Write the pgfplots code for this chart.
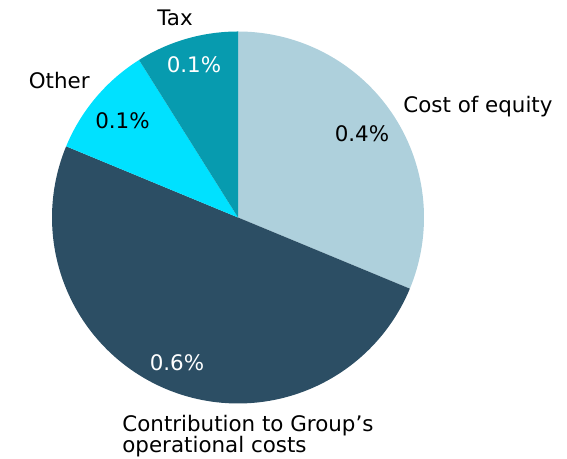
\documentclass[border=0pt]{standalone}
\usepackage{pgfplots}
\pgfplotsset{compat=1.18}
\usepackage{fontspec}
\setmainfont{DejaVu Sans}
\definecolor{ceq}{HTML}{AED0DC}
\definecolor{ccon}{HTML}{2C4E64}
\definecolor{coth}{HTML}{00E1FF}
\definecolor{ctax}{HTML}{079BAF}
% slice values (% points)
\def\vEq{0.35}
\def\vCon{0.56}
\def\vOth{0.11}
\def\vTax{0.10}
\pgfmathsetmacro\tot{\vEq+\vCon+\vOth+\vTax}
\pgfmathsetmacro\aA{90-360*\vEq/\tot}
\pgfmathsetmacro\aB{\aA-360*\vCon/\tot}
\pgfmathsetmacro\aC{\aB-360*\vOth/\tot}
\pgfmathsetmacro\aD{\aC-360*\vTax/\tot}
\def\cx{238}
\def\cy{241.5}
\def\R{186}
\begin{document}
\begin{tikzpicture}[every node/.style={font=\fontsize{10.7}{12.8}\selectfont, inner sep=0pt}]
\useasboundingbox (0,0) rectangle (283.5pt,229.5pt);
\begin{axis}[
  at={(0,0)}, anchor=origin,
  x=0.5pt, y=0.5pt,
  xmin=0, xmax=567, ymin=0, ymax=459,
  hide axis, clip=false,
]
\addplot[fill=ceq, draw=none, domain=\aA:90, samples=90, variable=\t]
  ({\cx+\R*cos(t)},{\cy+\R*sin(t)}) -- (axis cs:\cx,\cy) -- cycle;
\addplot[fill=ccon, draw=none, domain=\aB:\aA, samples=120, variable=\t]
  ({\cx+\R*cos(t)},{\cy+\R*sin(t)}) -- (axis cs:\cx,\cy) -- cycle;
\addplot[fill=coth, draw=none, domain=\aC:\aB, samples=40, variable=\t]
  ({\cx+\R*cos(t)},{\cy+\R*sin(t)}) -- (axis cs:\cx,\cy) -- cycle;
\addplot[fill=ctax, draw=none, domain=\aD:\aC, samples=40, variable=\t]
  ({\cx+\R*cos(t)},{\cy+\R*sin(t)}) -- (axis cs:\cx,\cy) -- cycle;
% value labels
\node[anchor=base] at (axis cs:362,317) {0.4\%};
\node[anchor=base, text=white] at (axis cs:177,88.5) {0.6\%};
\node[anchor=base] at (axis cs:122.5,330.5) {0.1\%};
\node[anchor=base, text=white] at (axis cs:194,386.5) {0.1\%};
% category labels
\node[anchor=base west] at (axis cs:403,346) {Cost of equity};
\node[anchor=base east] at (axis cs:90,370) {Other};
\node[anchor=base] at (axis cs:175,433) {Tax};
\node[anchor=base west] at (axis cs:122,27) {Contribution to Group’s};
\node[anchor=base west] at (axis cs:122,6) {operational costs};
\end{axis}
\end{tikzpicture}
\end{document}
